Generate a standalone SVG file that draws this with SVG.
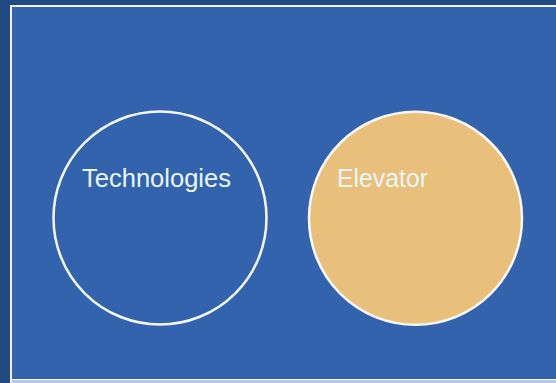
<svg xmlns="http://www.w3.org/2000/svg" width="556" height="383" viewBox="0 0 556 383">
<style>
.lbl{font-family:"Liberation Sans",Arial,sans-serif;font-size:25px;fill:#e8f6f6}
</style>
<rect x="0" y="0" width="556" height="383" fill="#1f4a82"/>
<rect x="10" y="5" width="546" height="378" fill="#f2f4fa"/>
<rect x="12" y="7" width="544" height="372" fill="#3463ae"/>
<rect x="12" y="380" width="544" height="3" fill="#b9c6e6"/>
<g id="node-technologies">
<circle cx="160" cy="218" r="106.5" fill="none" stroke="#f4f7fc" stroke-width="2.5"/>
<text class="lbl" x="82" y="187" textLength="149" lengthAdjust="spacingAndGlyphs">Technologies</text>
</g>
<g id="node-elevator">
<circle cx="415.5" cy="218.3" r="106.5" fill="#e9c07b" stroke="#f8f8f4" stroke-width="2.5"/>
<text class="lbl" x="337" y="187" textLength="91" lengthAdjust="spacingAndGlyphs">Elevator</text>
</g>
<g id="connectors"/>
</svg>
